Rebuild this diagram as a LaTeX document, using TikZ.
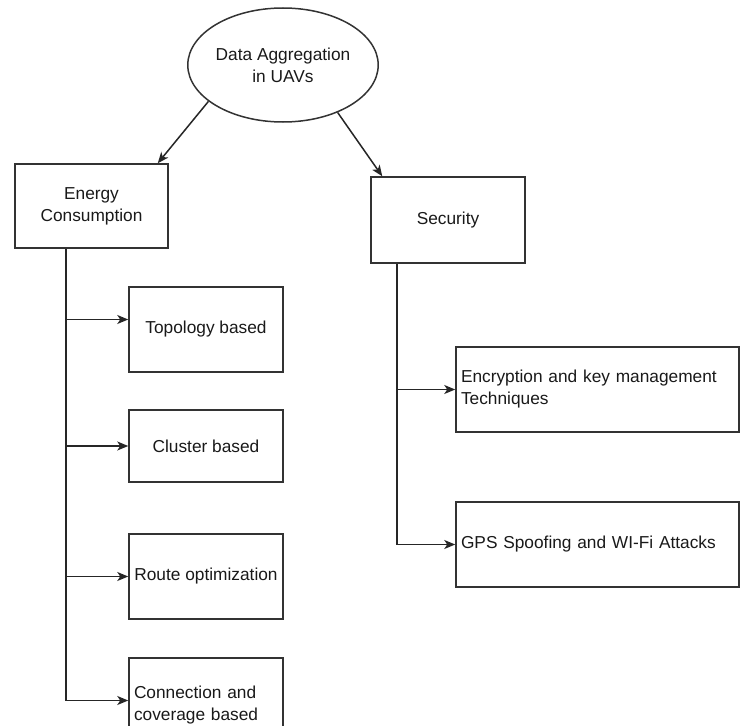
\documentclass[tikz,border=0pt]{standalone}
\usepackage{fontspec}
\setmainfont{Liberation Sans}
\usetikzlibrary{arrows.meta,shapes.geometric}

\begin{document}
\begin{tikzpicture}[x=1pt, y=-1pt,
    arr/.style={-{Stealth[length=11pt,width=9pt,inset=3pt]}, line width=1.5pt, black!85},
    box/.style={rectangle, draw=black!80, line width=1.5pt, inner sep=5pt,
                minimum width=154pt, minimum height=85pt,
                font=\fontsize{17.3}{22}\selectfont, text=black!90},
    rootell/.style={ellipse, draw=black!80, line width=1.5pt, inner sep=0pt,
                    minimum width=154pt, minimum height=114pt, align=center,
                    font=\fontsize{17.3}{22}\selectfont, text=black!90},
]
\useasboundingbox (0,0) rectangle (743,725);
\clip (0,0) rectangle (743,725);

% Root
\node[rootell] (root) at (283,65) {Data Aggregation\\in UAVs};

% Energy branch
\node[box, minimum width=153pt, minimum height=84pt, align=center]
    (energy) at (91.5,206) {Energy\\Consumption};
\node[box] (topo) at (206,329.5) {Topology based};
\node[box, minimum height=72pt] (clus) at (206,446) {Cluster based};
\node[box, inner xsep=3pt] (route) at (206,576.5) {Route optimization};
\node[box, text width=144pt, align=left, text depth=17pt]
    (conn) at (206,700.5) {Connection and\\coverage based};

% Security branch
\node[box, minimum height=86pt] (sec) at (448,220) {Security};
\node[box, minimum width=283pt, text width=273pt, align=left]
    (enc) at (597.5,389.5) {Encryption and key management\\Techniques};
\node[box, minimum width=283pt, text width=273pt, align=left]
    (gps) at (597.5,544.5) {GPS Spoofing and WI-Fi Attacks};

% Root arrows
\draw[arr] (root.206) -- ([xshift=-11pt]energy.north east);
\draw[arr] (root.319) -- ([xshift=12pt]sec.north west);

% Trunks
\coordinate (etrunk) at ([xshift=-25.5pt]energy.south);
\coordinate (topoin) at ([yshift=10pt]topo.west);
\draw[arr] (etrunk) |- (conn.west);
\draw[arr] (etrunk |- topoin) -- (topoin);
\foreach \n in {clus, route}
    \draw[arr] (etrunk |- \n.west) -- (\n.west);

\coordinate (strunk) at ([xshift=-51pt]sec.south);
\draw[arr] (strunk) |- (gps.west);
\draw[arr] (strunk |- enc.west) -- (enc.west);

\end{tikzpicture}
\end{document}
